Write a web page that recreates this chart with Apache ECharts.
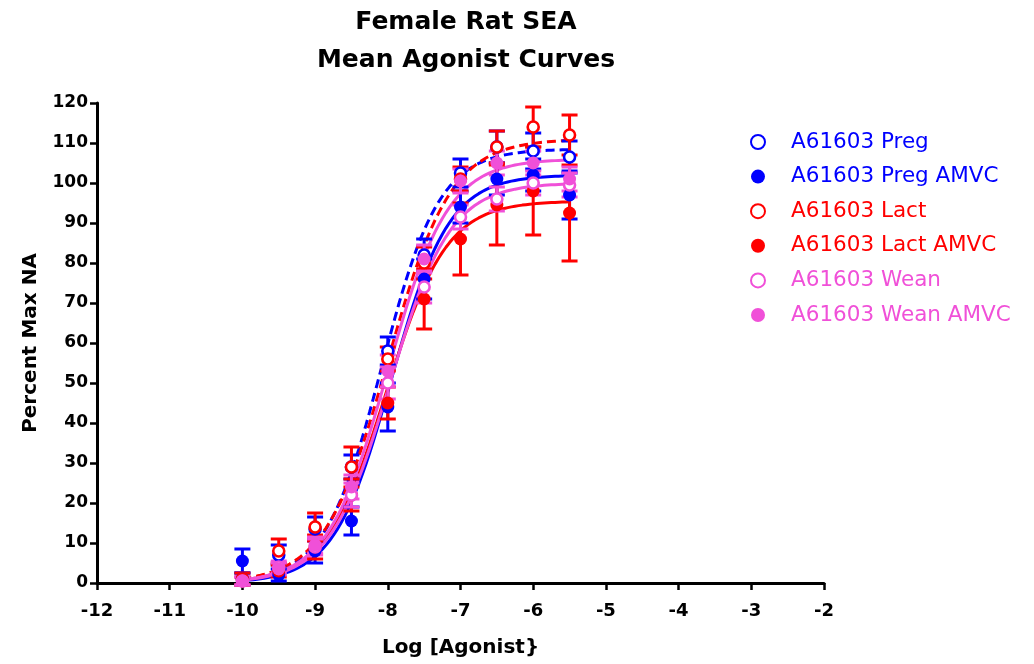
<!DOCTYPE html>
<html>
<head>
<meta charset="utf-8">
<script src="https://cdn.jsdelivr.net/npm/echarts@6/dist/echarts.min.js"></script>
<style>html,body{margin:0;padding:0;background:#fff}#c{width:1034px;height:664px}</style>
</head>
<body>
<div id="c"></div>
<script>
// ---- data ----
var xVals = [-10, -9.5, -9, -8.5, -8, -7.5, -7, -6.5, -6, -5.5];
var seriesNames = ['A61603 Preg', 'A61603 Preg AMVC', 'A61603 Lact', 'A61603 Lact AMVC', 'A61603 Wean', 'A61603 Wean AMVC'];
var pregMean      = [1, 7, 13.5, 29, 58, 82, 102.5, 109, 108, 106.5];
var pregSem       = [1.5, 2.5, 3, 3, 3.5, 4, 3.5, 4, 4.5, 4];
var pregAmvcMean  = [5.5, 2, 8, 15.5, 44, 76, 94, 101, 102, 97];
var pregAmvcSem   = [3, 1.5, 3, 3.5, 6, 5, 4, 4, 4, 6];
var lactMean      = [1, 8, 14, 29, 56, 80, 101, 109, 114, 112];
var lactSem       = [1.5, 3, 3.5, 5, 3, 4, 3, 4, 5, 5];
var lactAmvcMean  = [0.5, 3, 9, 22, 45, 71, 86, 94.5, 98, 92.5];
var lactAmvcSem   = [1, 1.5, 3, 4, 4, 7.5, 9, 10, 11, 12];
var weanMean      = [0.5, 4, 9, 22, 50, 74, 91.5, 96, 100, 99.5];
var weanSem       = [1, 1.5, 2, 3, 4, 4, 3, 3, 3, 3];
var weanAmvcMean  = [0.5, 3.5, 9.5, 24, 53, 81, 100.5, 105, 105, 101];
var weanAmvcSem   = [1, 1.5, 2, 3, 4, 3.5, 3, 3, 3, 3];
// fitted sigmoid parameters (4PL) per series
var curveBottom  = [0, 0, 0, 0, 0, 0];
var curveTop     = [108.5, 102, 111, 95.5, 100, 106];
var curveLogEC50 = [-8.08, -7.95, -8.0, -8.02, -7.97, -8.0];
var curveHill    = [1.1, 1.1, 1.0, 1.05, 1.05, 1.05];
var xTicks = [-12, -11, -10, -9, -8, -7, -6, -5, -4, -3, -2];
var yTicks = [0, 10, 20, 30, 40, 50, 60, 70, 80, 90, 100, 110, 120];

// ---- styles ----
var FONT = '"DejaVu Sans", Arial, sans-serif';
var colors = ['#0000ff', '#0000ff', '#ff0000', '#ff0000', '#f050d8', '#f050d8'];
var open = [true, false, true, false, true, false];
var dashed = [true, false, true, false, false, false];
var means = [pregMean, pregAmvcMean, lactMean, lactAmvcMean, weanMean, weanAmvcMean];
var sems = [pregSem, pregAmvcSem, lactSem, lactAmvcSem, weanSem, weanAmvcSem];

function curvePoints(i) {
  var pts = [];
  for (var k = 0; k <= 90; k++) {
    var x = -10 + k * 0.05;
    var y = curveBottom[i] + (curveTop[i] - curveBottom[i]) / (1 + Math.pow(10, (curveLogEC50[i] - x) * curveHill[i]));
    pts.push([x, y]);
  }
  return pts;
}

var series = [];
for (var i = 0; i < 6; i++) {
  series.push({
    name: 'curve' + i, type: 'line', data: curvePoints(i), showSymbol: false, symbol: 'none',
    smooth: false, z: 2, silent: true,
    lineStyle: { color: colors[i], width: 3, type: dashed[i] ? [9, 5] : 'solid' }
  });
}
for (var i = 0; i < 6; i++) {
  var eb = xVals.map(function (x, j) { return [x, means[i][j] - sems[i][j], means[i][j] + sems[i][j]]; });
  (function (col) {
    series.push({
      name: 'err' + i, type: 'custom', z: 3, silent: true,
      data: eb,
      encode: { x: 0, y: [1, 2] },
      renderItem: function (params, api) {
        var lo = api.coord([api.value(0), api.value(1)]);
        var hi = api.coord([api.value(0), api.value(2)]);
        var hw = 8;
        var st = { stroke: col, lineWidth: 3 };
        return { type: 'group', children: [
          { type: 'line', shape: { x1: lo[0], y1: lo[1], x2: hi[0], y2: hi[1] }, style: st },
          { type: 'line', shape: { x1: hi[0] - hw, y1: hi[1], x2: hi[0] + hw, y2: hi[1] }, style: st },
          { type: 'line', shape: { x1: lo[0] - hw, y1: lo[1], x2: lo[0] + hw, y2: lo[1] }, style: st }
        ]};
      }
    });
  })(colors[i]);
}
for (var i = 0; i < 6; i++) {
  series.push({
    name: seriesNames[i], type: 'scatter', z: 4,
    data: xVals.map(function (x, j) { return [x, means[i][j]]; }),
    symbol: 'circle', symbolSize: open[i] ? 11 : 13,
    itemStyle: open[i] ? { color: '#ffffff', borderColor: colors[i], borderWidth: 2.6, opacity: 1 } : { color: colors[i], borderWidth: 0, opacity: 1 }
  });
}

var chart = echarts.init(document.getElementById('c'), null, { renderer: 'canvas' });
chart.setOption({
  animation: false,
  backgroundColor: '#ffffff',
  title: {
    text: 'Female Rat SEA\nMean Agonist Curves',
    left: 461, top: -2, textAlign: 'center',
    textStyle: { fontFamily: FONT, fontWeight: 'bold', fontSize: 25, lineHeight: 38, color: '#000' }
  },
  legend: {
    orient: 'vertical', left: 745, top: 126, itemGap: 12.6, itemWidth: 16, itemHeight: 14,
    data: seriesNames.map(function (n, i) { return { name: n, textStyle: { color: colors[i] } }; }),
    textStyle: { fontFamily: FONT, fontSize: 21.5, lineHeight: 20, padding: [0, 0, 0, 20] },
    selectedMode: false
  },
  grid: { left: 97, right: 210, top: 103, bottom: 81, containLabel: false },
  xAxis: {
    type: 'value', min: -12, max: -2, interval: 1,
    name: 'Log [Agonist}', nameLocation: 'middle', nameGap: 55,
    nameTextStyle: { fontFamily: FONT, fontWeight: 'bold', fontSize: 20, color: '#000' },
    axisLine: { onZero: false, lineStyle: { color: '#000', width: 3 } },
    axisTick: { show: true, length: 7, lineStyle: { color: '#000', width: 2.5 } },
    axisLabel: { fontFamily: FONT, fontWeight: 'bold', fontSize: 18, color: '#000', margin: 19,
      formatter: function (v) { return xTicks.indexOf(v) >= 0 ? String(v) : ''; } },
    splitLine: { show: false }
  },
  yAxis: {
    type: 'value', min: 0, max: 120, interval: 10,
    name: 'Percent Max NA', nameLocation: 'middle', nameGap: 56, nameRotate: 90,
    nameTextStyle: { fontFamily: FONT, fontWeight: 'bold', fontSize: 20, color: '#000' },
    axisLine: { show: true, lineStyle: { color: '#000', width: 3 } },
    axisTick: { show: true, length: 7, lineStyle: { color: '#000', width: 2.5 } },
    axisLabel: { fontFamily: FONT, fontWeight: 'bold', fontSize: 17, color: '#000', margin: 9,
      formatter: function (v) { return yTicks.indexOf(v) >= 0 ? String(v) : ''; } },
    splitLine: { show: false }
  },
  series: series
});
</script>
</body>
</html>
